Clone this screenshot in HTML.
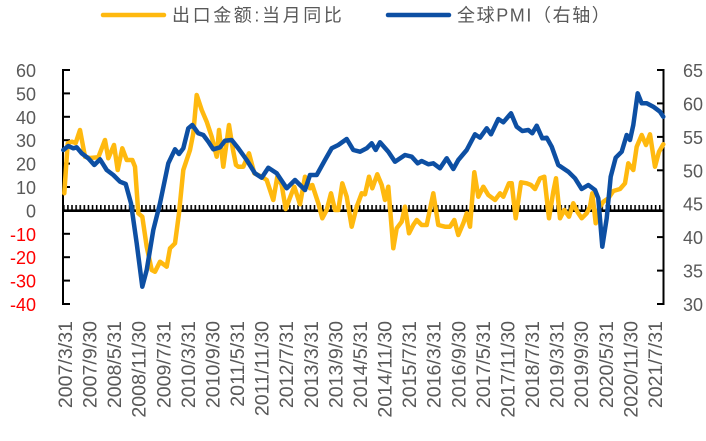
<!DOCTYPE html>
<html><head><meta charset="utf-8"><style>
html,body{margin:0;padding:0;background:#fff;}
svg{display:block;}
</style></head><body>
<svg width="706" height="441" viewBox="0 0 706 441" xmlns="http://www.w3.org/2000/svg">
<rect width="706" height="441" fill="#fff"/>
<!-- legend -->
<line x1="103" y1="15" x2="164" y2="15" stroke="#FFB90F" stroke-width="4.5" stroke-linecap="round"/>
<text x="172" y="21.5" font-family="'Liberation Sans','Noto Sans CJK SC',sans-serif" font-size="18" fill="#595959" letter-spacing="2.6">出口金额:当月同比</text>
<line x1="388" y1="15" x2="449" y2="15" stroke="#0D4FA3" stroke-width="4.5" stroke-linecap="round"/>
<text x="457" y="21.5" font-family="'Liberation Sans','Noto Sans CJK SC',sans-serif" font-size="18" fill="#595959" letter-spacing="1.6">全球PMI（右轴）</text>

<!-- left axis labels -->
<g font-family="'Liberation Sans',sans-serif" font-size="18" text-anchor="end">
<text x="36" y="77" fill="#595959">60</text>
<text x="36" y="100.4" fill="#595959">50</text>
<text x="36" y="123.8" fill="#595959">40</text>
<text x="36" y="147.2" fill="#595959">30</text>
<text x="36" y="170.6" fill="#595959">20</text>
<text x="36" y="194" fill="#595959">10</text>
<text x="36" y="217.4" fill="#595959">0</text>
<text x="36" y="240.8" fill="#FF0000">-10</text>
<text x="36" y="264.2" fill="#FF0000">-20</text>
<text x="36" y="287.6" fill="#FF0000">-30</text>
<text x="36" y="311" fill="#FF0000">-40</text>
</g>
<!-- right axis labels -->
<g font-family="'Liberation Sans',sans-serif" font-size="18" fill="#595959">
<text x="683" y="77">65</text>
<text x="683" y="110.4">60</text>
<text x="683" y="143.9">55</text>
<text x="683" y="177.3">50</text>
<text x="683" y="210.7">45</text>
<text x="683" y="244.1">40</text>
<text x="683" y="277.6">35</text>
<text x="683" y="311">30</text>
</g>

<!-- axes -->
<g stroke="#000">
<line x1="63" y1="69" x2="63" y2="305" stroke-width="2"/>
<g stroke-width="2">
<line x1="63" y1="70" x2="70" y2="70"/>
<line x1="63" y1="93.4" x2="70" y2="93.4"/>
<line x1="63" y1="116.8" x2="70" y2="116.8"/>
<line x1="63" y1="140.2" x2="70" y2="140.2"/>
<line x1="63" y1="163.6" x2="70" y2="163.6"/>
<line x1="63" y1="187" x2="70" y2="187"/>
<line x1="63" y1="233.8" x2="70" y2="233.8"/>
<line x1="63" y1="257.2" x2="70" y2="257.2"/>
<line x1="63" y1="280.6" x2="70" y2="280.6"/>
<line x1="63" y1="304" x2="70" y2="304"/>
</g>
<line x1="663.5" y1="69" x2="663.5" y2="305" stroke-width="2"/>
<g stroke-width="2">
<line x1="657" y1="70" x2="663.5" y2="70"/>
<line x1="657" y1="103.4" x2="663.5" y2="103.4"/>
<line x1="657" y1="136.9" x2="663.5" y2="136.9"/>
<line x1="657" y1="170.3" x2="663.5" y2="170.3"/>
<line x1="657" y1="237.1" x2="663.5" y2="237.1"/>
<line x1="657" y1="270.6" x2="663.5" y2="270.6"/>
<line x1="657" y1="304" x2="663.5" y2="304"/>
</g>
</g>
<defs>
<pattern id="tk" x="63" y="0" width="4.11" height="441" patternUnits="userSpaceOnUse">
<rect x="0" y="205" width="1.6" height="6" fill="#000"/>
</pattern>
</defs>
<rect x="63" y="204" width="600.5" height="7" fill="url(#tk)"/>
<line x1="63" y1="210.7" x2="663.5" y2="210.7" stroke="#000" stroke-width="2.6"/>

<!-- series -->
<polyline fill="none" stroke="#FFB90F" stroke-width="4.5" stroke-linejoin="round" stroke-linecap="round" points="64.3,193.3 67.7,143.3 71.7,141.7 75.7,143 80,130 85,156.7 90,158 98.3,157.3 105,140 108.3,158.3 114,145 117.7,170 122.3,148.3 126.7,160 132.3,160 135,166.7 138.3,213.3 142.3,216.7 146.7,246.7 151.7,270 155,271.7 160,261.7 166.7,266.7 170,248.3 175,243.3 179,213.3 183.3,170 190,150 193.3,133.3 196.7,95 201.7,110 206.7,121.7 211.7,136.7 216.7,156.7 219,130 223.3,166.7 229,125 233,150 236,165 238.3,166.7 243.3,166.7 249,153.3 254.3,173.3 261.7,176.7 266.7,180 273.3,200 277.3,176.7 281.7,185 285.7,209 291,195 294.3,186.7 300,204.3 305,176.7 310,188.3 312.3,185 318.3,203.3 322.3,218.3 326.7,210 331,193.3 335,210 338.3,210 342.3,183.3 346.7,196.7 351.7,226.7 356.7,206.7 361.7,193.3 365,194.3 369,176.7 372.3,188.3 377.3,174.3 381.7,185 385,200 388.3,186.7 393.3,248.3 396.7,228.3 401.7,221.7 405,206.7 409,233.3 413.3,225 416.7,220 421.7,225 426.7,225 433.3,193.3 438.3,225 445,226.7 450,226.7 454.3,220 458.3,235 463.3,223.3 466.7,213.3 470,226.7 474.3,172.3 478.3,196.7 483.3,186.7 488.3,195 495,200 500,193.3 503.3,196.7 509,183.3 511.7,183.3 515.7,218.3 521,182.3 526.7,183.3 531,185 535,189 540,178.3 544.3,176.7 549,218.3 553.3,191.7 556,178.3 560,218.3 564.3,210 569,216.7 573.3,203.3 577.3,211.7 581.7,218.3 586.7,213.3 590,206.7 592.3,193.3 595.7,223.3 599,208.3 603.3,201.7 608.3,198.3 613.3,191 620,189 625,183.3 628.3,163.3 633.3,170 636.7,146.7 641.7,135 646,145 650,134.3 655,166.7 659,151.7 663.3,144.3"/>
<polyline fill="none" stroke="#0D4FA3" stroke-width="4.5" stroke-linejoin="round" stroke-linecap="round" points="63.3,150 68.3,146 73.3,148.3 76.7,147.3 81.7,153.3 88.3,158.3 94.3,165 100,159.3 106.7,170 113.3,175 120,181.7 125.7,184 131,203.3 136.7,243.3 142.3,286.7 146.7,270 153.3,230 160,203.3 168.3,163.3 175,149.3 179,154 183.3,148.3 188.3,128.3 192.3,125 198.3,133.3 203.3,135 208.3,141.7 213.3,149.3 220,147.3 225,140.7 231.7,140 238.3,148.3 246.7,160 255,173.3 261.7,177.7 268.3,167.7 276.7,173.3 286.7,188.3 295,180 305,190 310,175 316.7,175 325,160 331.7,148.3 338.3,145 346.7,139 353.3,150 360,151.7 366.7,148.3 371.7,143.3 375.7,150 380,142.3 388.3,151.7 395,161.7 405,155 411.7,156.7 417.7,163.3 421.7,161 428.3,164.3 433.3,163.3 440,168.3 446.7,158.3 453.3,169 458.3,160 466.7,150 475,134.3 480,137.7 486.7,128.3 491,134.3 498.3,119 503.3,122.3 511,113.3 516.7,126.7 522.3,131 528.3,130 532.3,133.3 536.7,125.7 542.3,138.3 546.7,137.7 551.7,146.7 558.3,165 568.3,171.7 575,178.3 581.7,189 588.3,185 595,190 598.3,198.3 602.3,246.7 606.7,218.3 610.7,176.7 615.7,157.7 621.7,151.7 626.7,135 630,140 633.3,125 637.7,93.3 641.7,103.3 646.7,103.3 653.3,106.7 660,111.7 663.3,116.7"/>

<!-- x labels -->
<g font-family="'Liberation Sans',sans-serif" font-size="19.6" fill="#595959" text-anchor="end">
<text transform="translate(72,321) rotate(-90)">2007/3/31</text>
<text transform="translate(96.6,321) rotate(-90)">2007/9/30</text>
<text transform="translate(121.2,321) rotate(-90)">2008/5/31</text>
<text transform="translate(145.7,321) rotate(-90)">2008/11/30</text>
<text transform="translate(170.3,321) rotate(-90)">2009/7/31</text>
<text transform="translate(194.9,321) rotate(-90)">2010/3/31</text>
<text transform="translate(219.5,321) rotate(-90)">2010/9/30</text>
<text transform="translate(244.1,321) rotate(-90)">2011/5/31</text>
<text transform="translate(268.6,321) rotate(-90)">2011/11/30</text>
<text transform="translate(293.2,321) rotate(-90)">2012/7/31</text>
<text transform="translate(317.8,321) rotate(-90)">2013/3/31</text>
<text transform="translate(342.4,321) rotate(-90)">2013/9/30</text>
<text transform="translate(367,321) rotate(-90)">2014/5/31</text>
<text transform="translate(391.5,321) rotate(-90)">2014/11/30</text>
<text transform="translate(416.1,321) rotate(-90)">2015/7/31</text>
<text transform="translate(440.7,321) rotate(-90)">2016/3/31</text>
<text transform="translate(465.3,321) rotate(-90)">2016/9/30</text>
<text transform="translate(489.9,321) rotate(-90)">2017/5/31</text>
<text transform="translate(514.4,321) rotate(-90)">2017/11/30</text>
<text transform="translate(539,321) rotate(-90)">2018/7/31</text>
<text transform="translate(563.6,321) rotate(-90)">2019/3/31</text>
<text transform="translate(588.2,321) rotate(-90)">2019/9/30</text>
<text transform="translate(612.8,321) rotate(-90)">2020/5/31</text>
<text transform="translate(637.3,321) rotate(-90)">2020/11/30</text>
<text transform="translate(661.9,321) rotate(-90)">2021/7/31</text>
</g>
</svg>
</body></html>
